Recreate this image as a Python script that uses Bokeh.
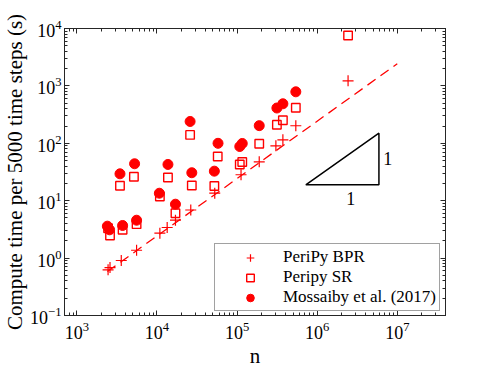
from bokeh.plotting import figure
from bokeh.models import LogAxis, Legend, LegendItem, Range1d, LogTicker
from bokeh.embed import file_html
from bokeh.resources import INLINE
from bokeh.core.properties import value

# PeriPy BPR
bpr_n = [2450, 2590, 3580, 5560, 10860, 13400, 17000, 26400, 52600, 112000,
         189000, 305000, 373000, 541000, 2430000]
bpr_t = [0.625, 0.685, 0.908, 1.37, 2.72, 3.41, 4.57, 6.89, 13.5, 28.3,
         47.6, 90.3, 115, 202, 1228]

# Peripy SR
sr_n = [2450, 2590, 3450, 3720, 5150, 5560, 10860, 13700, 17000, 25900, 27200,
        52000, 57300, 108000, 116000, 189000, 314000, 373000, 541000, 2430000]
sr_t = [3.32, 2.48, 18.2, 3.11, 26.1, 3.90, 11.8, 25.4, 6.05, 140, 18.4,
        18.0, 58.9, 42.8, 47.2, 98.4, 210, 252, 416, 7550]

# Mossaiby et al. (2017)
mos_n = [2400, 2560, 3450, 3720, 5250, 5560, 10700, 13700, 17000, 25900, 27200,
         52000, 57800, 108000, 116000, 189000, 314000, 373000, 541000]
mos_t = [3.60, 3.11, 29.4, 3.70, 44.0, 4.57, 13.5, 42.8, 8.69, 240, 30.7,
         32.7, 100, 87.9, 99.3, 203, 412, 488, 789]

# linear-scaling reference line
fit_n = [2400, 1.0e7]
fit_t = [0.583, 2430]

# slope triangle
tri_n = [7.2e5, 5.9e6, 5.9e6, 7.2e5]
tri_t = [18.9, 18.9, 150, 18.9]
tri_label_n = [7.6e6, 2.62e6]
tri_label_t = [55, 11.1]
tri_labels = ["1", "1"]

RED = "#ff0000"
SERIF = "Liberation Serif"
AX = "#262626"

p = figure(x_axis_type="log", y_axis_type="log",
           x_range=Range1d(700, 4e7), y_range=Range1d(0.1, 1e4),
           frame_width=381, frame_height=287,
           min_border_left=55, min_border_top=28, min_border_right=30,
           min_border_bottom=40,
           output_backend="svg", toolbar_location=None)
p.background_fill_color = "white"
p.border_fill_color = "white"
p.outline_line_color = AX
p.grid.visible = False

for ax in (p.xaxis[0], p.yaxis[0]):
    ax.ticker = LogTicker(num_minor_ticks=10)
    ax.major_tick_in = 5
    ax.major_tick_out = 0
    ax.minor_tick_in = 3
    ax.minor_tick_out = 0
    ax.axis_line_color = AX
    ax.major_tick_line_color = AX
    ax.minor_tick_line_color = AX
    ax.major_label_text_font = SERIF
    ax.major_label_text_font_size = "18px"
    ax.major_label_text_color = "black"
    ax.axis_label_text_font = SERIF
    ax.axis_label_text_font_style = "normal"
    ax.axis_label_text_font_size = "21px"
    ax.axis_label_text_color = "black"

p.xaxis.axis_label = "n"
p.yaxis.axis_label = "Compute time per 5000 time steps (s)"
p.xaxis.major_label_standoff = 6
p.yaxis.major_label_standoff = 3
p.xaxis.axis_label_standoff = 2
p.yaxis.axis_label_standoff = 0

for loc in ("above", "right"):
    a = LogAxis(ticker=LogTicker(num_minor_ticks=10))
    a.major_label_text_font_size = "0px"
    a.major_label_text_alpha = 0
    a.major_tick_in = 5
    a.major_tick_out = 0
    a.minor_tick_in = 3
    a.minor_tick_out = 0
    a.axis_line_color = AX
    a.major_tick_line_color = AX
    a.minor_tick_line_color = AX
    a.major_label_standoff = 0
    p.add_layout(a, loc)

# reference line and triangle
p.line(fit_n, fit_t, line_color=RED, line_width=1.3, line_dash="10 6")
p.line(tri_n, tri_t, line_color="black", line_width=1.5)
p.text(tri_label_n, tri_label_t, text=tri_labels, text_font=value(SERIF),
       text_font_size="18px", text_align="center", text_baseline="middle",
       text_color="black")

r_bpr = p.scatter(bpr_n, bpr_t, marker="cross", size=11, line_color=RED,
                  line_width=1.2)
r_sr = p.scatter(sr_n, sr_t, marker="square", size=8.5, line_color=RED,
                 fill_color=None, line_width=1.4)
r_mos = p.scatter(mos_n, mos_t, marker="circle", size=10, line_color=RED,
                  fill_color=RED)

legend = Legend(items=[LegendItem(label="PeriPy BPR", renderers=[r_bpr]),
                       LegendItem(label="Peripy SR", renderers=[r_sr]),
                       LegendItem(label="Mossaiby et al. (2017)", renderers=[r_mos])],
                location=(150, 4))
legend.padding = 3
legend.margin = 0
legend.spacing = 0
legend.glyph_width = 64
legend.glyph_height = 19
legend.label_height = 19
legend.label_standoff = 1
legend.label_text_font = SERIF
legend.label_text_font_size = "17px"
legend.label_text_color = "black"
legend.border_line_color = "#444444"
legend.border_line_width = 1
legend.background_fill_alpha = 1
p.add_layout(legend)

open("out.html", "w").write(file_html(p, INLINE))
